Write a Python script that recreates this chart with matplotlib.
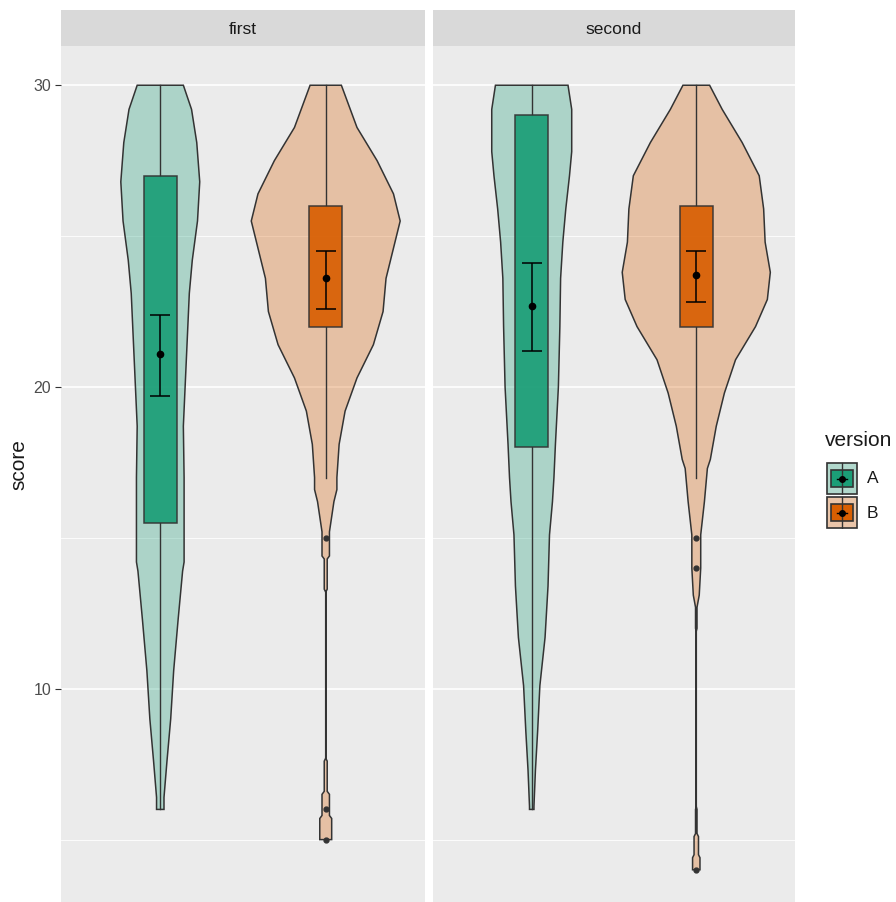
import matplotlib
matplotlib.use("Agg")
import matplotlib.pyplot as plt
from matplotlib.patches import Polygon, Rectangle

plt.rcParams["font.family"] = ["Liberation Sans", "DejaVu Sans"]

# facets / groups
facets = ["first", "second"]
versions = ["A", "B"]
colors = {"A": "#1b9e77", "B": "#d95f02"}

# violin outlines: score levels and relative density (1.0 = widest violin)
violin_y = {
    ("first", "A"): [30, 29.2, 28.1, 26.8, 25.5, 24.2, 23.1, 20.9, 18.7, 17.0, 14.2, 13.9,
                     12.3, 10.6, 9.0, 7.6, 6.4, 6.0],
    ("first", "B"): [30, 28.6, 27.5, 26.4, 25.5, 24.6, 23.6, 22.5, 21.4, 20.3, 19.2, 18.1,
                     17.0, 16.6, 16.2, 15.2, 15.0, 14.4, 14.3, 13.3, 13.2, 7.7, 7.6, 6.6,
                     6.5, 5.8, 5.7, 5.0],
    ("second", "A"): [30, 29.2, 27.8, 27.0, 25.9, 24.8, 23.6, 22.0, 20.0, 18.1, 17.0, 16.2,
                      15.1, 13.4, 11.7, 10.1, 8.6, 7.3, 6.1, 6.0],
    ("second", "B"): [30, 29.2, 28.1, 27.0, 25.9, 24.8, 23.8, 22.9, 22.0, 20.9, 19.8, 18.7,
                      17.6, 17.3, 16.2, 15.1, 14.0, 13.1, 12.7, 12.0, 11.9, 6.1, 6.0, 5.2,
                      5.1, 4.5, 4.4, 4.0],
}
violin_d = {
    ("first", "A"): [0.31, 0.42, 0.49, 0.53, 0.50, 0.43, 0.39, 0.35, 0.31, 0.32, 0.32, 0.30,
                     0.24, 0.18, 0.14, 0.09, 0.05, 0.05],
    ("first", "B"): [0.21, 0.42, 0.69, 0.91, 1.0, 0.91, 0.81, 0.77, 0.64, 0.42, 0.26, 0.18,
                     0.15, 0.15, 0.11, 0.05, 0.05, 0.05, 0.02, 0.02, 0.0, 0.0, 0.02, 0.02,
                     0.05, 0.05, 0.08, 0.08],
    ("second", "A"): [0.49, 0.54, 0.54, 0.51, 0.46, 0.42, 0.39, 0.38, 0.36, 0.32, 0.30, 0.28,
                      0.24, 0.22, 0.18, 0.11, 0.08, 0.05, 0.03, 0.03],
    ("second", "B"): [0.18, 0.35, 0.62, 0.85, 0.91, 0.93, 1.0, 0.96, 0.80, 0.53, 0.38, 0.27,
                      0.19, 0.15, 0.11, 0.06, 0.06, 0.04, 0.01, 0.01, 0.0, 0.0, 0.01, 0.01,
                      0.03, 0.03, 0.05, 0.05],
}

# boxplot stats: (q1, q3, whisker low, whisker high)
box_stats = {
    ("first", "A"): (15.5, 27, 6, 30),
    ("first", "B"): (22, 26, 17, 30),
    ("second", "A"): (18, 29, 6, 30),
    ("second", "B"): (22, 26, 17, 30),
}
outliers = {
    ("first", "A"): [],
    ("first", "B"): [15, 6, 5],
    ("second", "A"): [],
    ("second", "B"): [15, 14, 4],
}
# mean and confidence interval
means = {("first", "A"): 21.1, ("first", "B"): 23.6, ("second", "A"): 22.7, ("second", "B"): 23.7}
ci_lo = {("first", "A"): 19.7, ("first", "B"): 22.6, ("second", "A"): 21.2, ("second", "B"): 22.8}
ci_hi = {("first", "A"): 22.4, ("first", "B"): 24.5, ("second", "A"): 24.1, ("second", "B"): 24.5}

W, H = 896, 902
fig = plt.figure(figsize=(W / 100, H / 100), dpi=100)

panel_px = [(61, 425), (433, 795)]
top_px, bot_px = 46, 909
strip_top = 10
edge = "#333333"
bg = "#EBEBEB"

for i, facet in enumerate(facets):
    x0, x1 = panel_px[i]
    ax = fig.add_axes([x0 / W, 1 - bot_px / H, (x1 - x0) / W, (bot_px - top_px) / H])
    ax.set_facecolor(bg)
    ax.set_xlim(0.4, 2.6)
    ax.set_ylim(2.7, 31.3)
    for s in ax.spines.values():
        s.set_visible(False)
    for y in [5, 15, 25]:
        ax.axhline(y, color="white", lw=0.6, zorder=0)
    for y in [10, 20, 30]:
        ax.axhline(y, color="white", lw=1.2, zorder=0)
    ax.set_xticks([])
    ax.set_yticks([10, 20, 30])
    if i == 0:
        ax.tick_params(axis="y", length=4, width=0.8, color=edge, labelcolor="#4D4D4D",
                       labelsize=11.5, pad=3)
    else:
        ax.tick_params(axis="y", length=0, labelleft=False)

    for j, v in enumerate(versions):
        key = (facet, v)
        cx = j + 1
        ys = violin_y[key]
        hw = [d * 0.45 for d in violin_d[key]]
        pts = [(cx - w, y) for y, w in zip(ys, hw)] + \
              [(cx + w, y) for y, w in reversed(list(zip(ys, hw)))]
        ax.add_patch(Polygon(pts, closed=True, facecolor=colors[v], alpha=0.3,
                             edgecolor="none", zorder=2))
        ax.add_patch(Polygon(pts, closed=True, facecolor="none", edgecolor=edge,
                             lw=1.1, zorder=3))

        q1, q3, wlo, whi = box_stats[key]
        bw = 0.1
        ax.plot([cx, cx], [q3, whi], color=edge, lw=1.0, zorder=4)
        ax.plot([cx, cx], [wlo, q1], color=edge, lw=1.0, zorder=4)
        ax.add_patch(Rectangle((cx - bw, q1), 2 * bw, q3 - q1, facecolor=colors[v],
                               alpha=0.92, edgecolor=edge, lw=1.1, zorder=5))
        if outliers[key]:
            ax.plot([cx] * len(outliers[key]), outliers[key], "o", color=edge,
                    ms=3.5, zorder=6)

        ax.errorbar([cx], [means[key]],
                    yerr=[[means[key] - ci_lo[key]], [ci_hi[key] - means[key]]],
                    fmt="o", color="black", ms=4.5, capsize=7, elinewidth=1.1,
                    capthick=1.1, zorder=7)

    # facet strip
    sax = fig.add_axes([x0 / W, 1 - top_px / H, (x1 - x0) / W, (top_px - strip_top) / H])
    sax.set_facecolor("#D9D9D9")
    sax.set_xticks([])
    sax.set_yticks([])
    for s in sax.spines.values():
        s.set_visible(False)
    sax.text(0.5, 0.45, facet, ha="center", va="center", fontsize=12.5, color="#1A1A1A",
             transform=sax.transAxes)

fig.text(19 / W, 1 - 465 / H, "score", rotation=90, fontsize=15, color="#1A1A1A",
         ha="center", va="center")

# legend
fig.text(825 / W, 1 - 440 / H, "version", fontsize=15, color="#1A1A1A",
         ha="left", va="center")
for k, v in enumerate(versions):
    ky0 = 462 + 34 * k
    kax = fig.add_axes([826 / W, 1 - (ky0 + 33) / H, 32 / W, 33 / H])
    kax.set_xlim(0, 1)
    kax.set_ylim(0, 1)
    kax.set_xticks([])
    kax.set_yticks([])
    kax.set_facecolor("#F2F2F2")
    for s in kax.spines.values():
        s.set_visible(False)
    kax.add_patch(Rectangle((0.03, 0.03), 0.94, 0.94, facecolor=colors[v], alpha=0.3,
                            edgecolor="none"))
    kax.add_patch(Rectangle((0.03, 0.03), 0.94, 0.94, facecolor="none", edgecolor=edge,
                            lw=1.2))
    kax.plot([0.5, 0.5], [0.03, 0.97], color=edge, lw=1.0)
    kax.add_patch(Rectangle((0.15, 0.25), 0.7, 0.5, facecolor=colors[v], edgecolor=edge,
                            lw=1.2))
    kax.plot([0.35, 0.65], [0.5, 0.5], color="black", lw=1.0)
    kax.plot([0.5], [0.5], "o", color="black", ms=4)
    fig.text(867 / W, 1 - (ky0 + 17) / H, v, fontsize=12.5, color="#1A1A1A",
             ha="left", va="center")

fig.savefig("out.png", dpi=100)
